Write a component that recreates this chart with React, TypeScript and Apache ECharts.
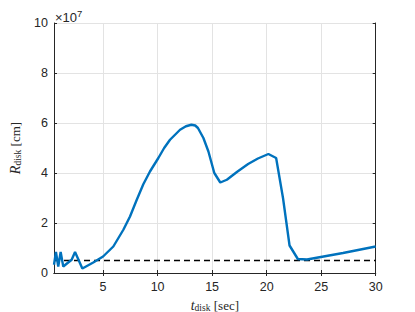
import React, { useEffect, useRef } from "react";
import * as echarts from "echarts";

// time (sec)
const tDisk = [0.5, 0.68, 0.89, 1.11, 1.35, 1.66, 2.12, 2.43, 3.1, 4.1, 5.0, 5.94, 6.86, 7.47, 8.09, 8.69, 9.3, 10.07, 10.6, 11.14, 12.06, 12.6, 13.1, 13.45, 13.7, 14.2, 14.66, 15.2, 15.75, 16.35, 17.3, 18.3, 19.2, 20.16, 20.87, 21.5, 22.1, 22.86, 23.7, 27, 30];
// radius in units of 1e7 cm
const rDisk = [0.33, 0.84, 0.26, 0.84, 0.26, 0.37, 0.53, 0.84, 0.18, 0.42, 0.66, 1.06, 1.73, 2.26, 2.93, 3.55, 4.06, 4.6, 5.0, 5.33, 5.73, 5.87, 5.93, 5.9, 5.8, 5.4, 4.86, 4.0, 3.62, 3.73, 4.05, 4.36, 4.58, 4.76, 4.6, 3.0, 1.1, 0.56, 0.54, 0.8, 1.06];
const threshold = 0.5;
const xLimits = [0.5, 30];
const yLimits = [0, 10];
const xTicks = [5, 10, 15, 20, 25, 30];

const AX = "#262626";
const GRID = "#e3e3e3";
const SANS = "'Liberation Sans', Arial, sans-serif";
const SERIF = "'Liberation Serif', 'DejaVu Serif', serif";

export default function App() {
  const ref = useRef<HTMLDivElement>(null);
  useEffect(() => {
    if (!ref.current) return;
    const chart = echarts.init(ref.current, null, { renderer: "svg" });
    const tickLen = 3;
    const nameRich = {
      i: { fontFamily: SERIF, fontStyle: "italic", fontSize: 14, color: AX, lineHeight: 16 },
      s: { fontFamily: SERIF, fontSize: 9.5, color: AX, padding: [5, 0, 0, 0], lineHeight: 16 },
      n: { fontFamily: SERIF, fontSize: 13, color: AX, lineHeight: 16 },
    };
    chart.setOption({
      animation: false,
      backgroundColor: "#fff",
      grid: { left: 54, top: 23, width: 321.7, height: 250, containLabel: false, outerBoundsMode: "none" },
      xAxis: [
        {
          type: "value",
          min: xLimits[0],
          max: xLimits[1],
          position: "bottom",
          axisLine: { show: true, lineStyle: { color: AX, width: 1 } },
          axisTick: { show: true, inside: true, length: tickLen, customValues: xTicks, lineStyle: { color: AX } },
          axisLabel: { customValues: xTicks, color: AX, fontFamily: SANS, fontSize: 12.5, margin: 7 },
          splitLine: { show: true, lineStyle: { color: GRID, width: 1 } },
          name: "{i|t}{s|disk} {n|[sec]}",
          nameLocation: "middle",
          nameGap: 20,
          nameTextStyle: { rich: nameRich },
        },
        {
          type: "value",
          min: xLimits[0],
          max: xLimits[1],
          position: "top",
          axisLine: { show: true, lineStyle: { color: AX, width: 1 } },
          axisTick: { show: true, inside: true, length: tickLen, customValues: xTicks, lineStyle: { color: AX } },
          axisLabel: { show: false },
          splitLine: { show: false },
        },
      ],
      yAxis: [
        {
          type: "value",
          min: yLimits[0],
          max: yLimits[1],
          interval: 2,
          position: "left",
          axisLine: { show: true, lineStyle: { color: AX, width: 1 } },
          axisTick: { show: true, inside: true, length: tickLen, lineStyle: { color: AX } },
          axisLabel: { color: AX, fontFamily: SANS, fontSize: 12.5, margin: 6 },
          splitLine: { show: true, lineStyle: { color: GRID, width: 1 } },
          name: "{i|R}{s|disk} {n|[cm]}",
          nameLocation: "middle",
          nameGap: 21,
          nameTextStyle: { rich: nameRich },
        },
        {
          type: "value",
          min: yLimits[0],
          max: yLimits[1],
          interval: 2,
          position: "right",
          axisLine: { show: true, lineStyle: { color: AX, width: 1 } },
          axisTick: { show: true, inside: true, length: tickLen, lineStyle: { color: AX } },
          axisLabel: { show: false },
          splitLine: { show: false },
        },
      ],
      graphic: [
        {
          type: "text",
          left: 55,
          top: 8,
          style: {
            text: "×10{p|7}",
            fontFamily: SANS,
            fontSize: 13,
            fill: AX,
            rich: { p: { fontFamily: SANS, fontSize: 9.5, fill: AX, padding: [0, 0, 8, 0] } },
          },
        },
      ],
      series: [
        {
          type: "line",
          data: [
            [xLimits[0], threshold],
            [xLimits[1], threshold],
          ],
          showSymbol: false,
          silent: true,
          lineStyle: { color: "#000", width: 1.5, type: [6, 4] },
          z: 2,
        },
        {
          type: "line",
          data: tDisk.map((t, i) => [t, rDisk[i]]),
          showSymbol: false,
          silent: true,
          lineStyle: { color: "#0072BD", width: 2.4 },
          z: 3,
        },
      ],
    });
    return () => chart.dispose();
  }, []);
  return <div ref={ref} style={{ width: 415, height: 312, position: "absolute", left: 0, top: 0 }} />;
}
